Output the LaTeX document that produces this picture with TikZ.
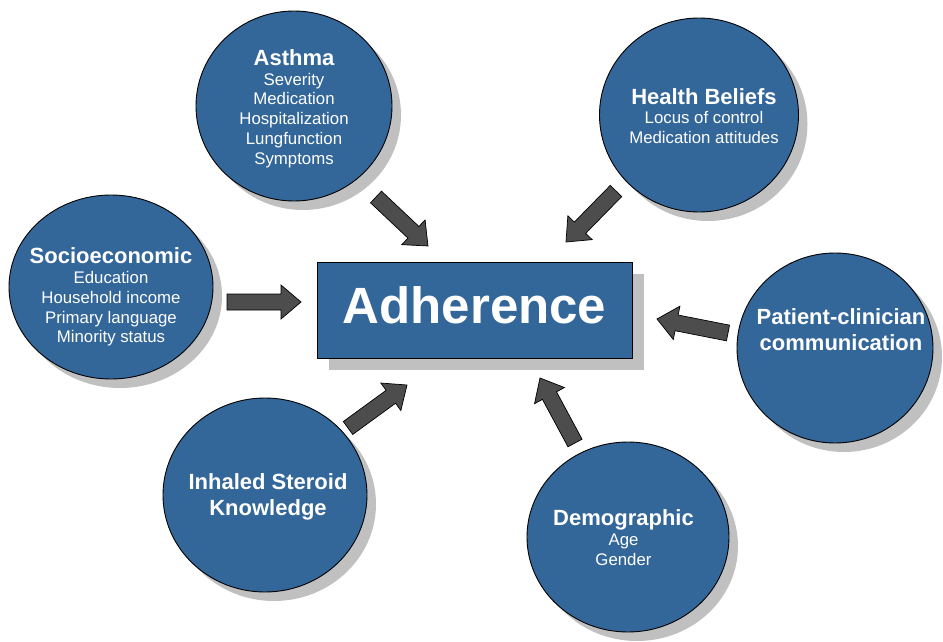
\documentclass[tikz,border=0pt]{standalone}
\usepackage{fontspec}
\setmainfont{Liberation Sans}
\usetikzlibrary{shapes.geometric,shadows,calc}
\definecolor{circblue}{RGB}{51,102,153}
\definecolor{arrgray}{RGB}{77,77,77}
\definecolor{shadgray}{RGB}{192,192,192}
\tikzset{
  factor/.style={ellipse, draw=black, line width=0.9pt, fill=circblue, inner sep=0pt,
    drop shadow={shadow xshift=9pt, shadow yshift=-9pt, fill=shadgray, opacity=1}},
  central/.style={rectangle, draw=black, line width=0.9pt, fill=circblue, inner sep=0pt,
    minimum width=315pt, minimum height=96pt,
    drop shadow={shadow xshift=12pt, shadow yshift=-12pt, fill=shadgray, opacity=1}},
  centraltext/.style={text=white, inner sep=0pt,
    font=\fontsize{51}{56}\selectfont\bfseries},
  facttext/.style={text=white, align=center, inner sep=0pt,
    font=\fontsize{16.8}{19.8}\selectfont},
  titletext/.style={text=white, align=center, inner sep=0pt,
    font=\fontsize{22}{26}\selectfont\bfseries},
  blockarr/.style={fill=arrgray, draw=black, line width=0.7pt, line join=miter},
}
\newcommand{\ttl}[1]{{\fontsize{22}{20}\selectfont\bfseries #1}}
% block arrow from tail #1 to tip #2
\newcommand{\blockarrow}[2]{%
  \path ($(#2)!20pt!(#1)$) coordinate (neck);
  \draw[blockarr] ($(#1)!8pt!90:(#2)$) -- ($(neck)!8pt!90:(#2)$) -- ($(neck)!17pt!90:(#2)$)
    -- (#2) -- ($(neck)!17pt!-90:(#2)$) -- ($(neck)!8pt!-90:(#2)$) -- ($(#1)!8pt!-90:(#2)$) -- cycle;
}
\begin{document}
\begin{tikzpicture}[x=1pt,y=-1pt]
\useasboundingbox (0,0) rectangle (943,642);

% factor circles
\node[factor, minimum width=196pt, minimum height=190pt] (asthma) at (294,106) {};
\node[factor, minimum width=199pt, minimum height=194pt] (health) at (699,115) {};
\node[factor, minimum width=204pt, minimum height=184pt] (socio) at (111,287) {};
\node[factor, minimum width=196pt, minimum height=190pt] (patient) at (835,348) {};
\node[factor, minimum width=204pt, minimum height=194pt] (inhaled) at (265,495) {};
\node[factor, minimum width=202pt, minimum height=190pt] (demo) at (628,537) {};

% central box
\node[central] (adh) at (474.5,310) {};
\node[centraltext] (adhT) at (474.5,305) {Adherence};

% texts
\node[facttext] (asthmaT) at (294,108.5) {\ttl{Asthma}\\Severity\\Medication\\Hospitalization\\Lungfunction\\Symptoms};
\node[facttext] (healthT) at (704,116) {\ttl{Health Beliefs}\\Locus of control\\Medication attitudes};
\node[facttext] (socioT) at (111,297) {\ttl{Socioeconomic}\\Education\\Household income\\Primary language\\Minority status};
\node[titletext] (patientT) at (841,330) {Patient-clinician\\communication};
\node[titletext] (inhaledT) at (268,497) {Inhaled Steroid\\Knowledge};
\node[facttext] (demoT) at (623.5,537.5) {\ttl{Demographic}\\Age\\Gender};

% arrow end points
\coordinate (a1) at (376,197); \coordinate (b1) at (428,246);
\coordinate (a2) at (616,191); \coordinate (b2) at (566,242);
\coordinate (a3) at (227,302); \coordinate (b3) at (301,302);
\coordinate (a4) at (728,333); \coordinate (b4) at (657,319);
\coordinate (a5) at (348,428); \coordinate (b5) at (407,385);
\coordinate (a6) at (575,443); \coordinate (b6) at (540,378);

\blockarrow{a1}{b1}
\blockarrow{a2}{b2}
\blockarrow{a3}{b3}
\blockarrow{a4}{b4}
\blockarrow{a5}{b5}
\blockarrow{a6}{b6}
\end{tikzpicture}
\end{document}
